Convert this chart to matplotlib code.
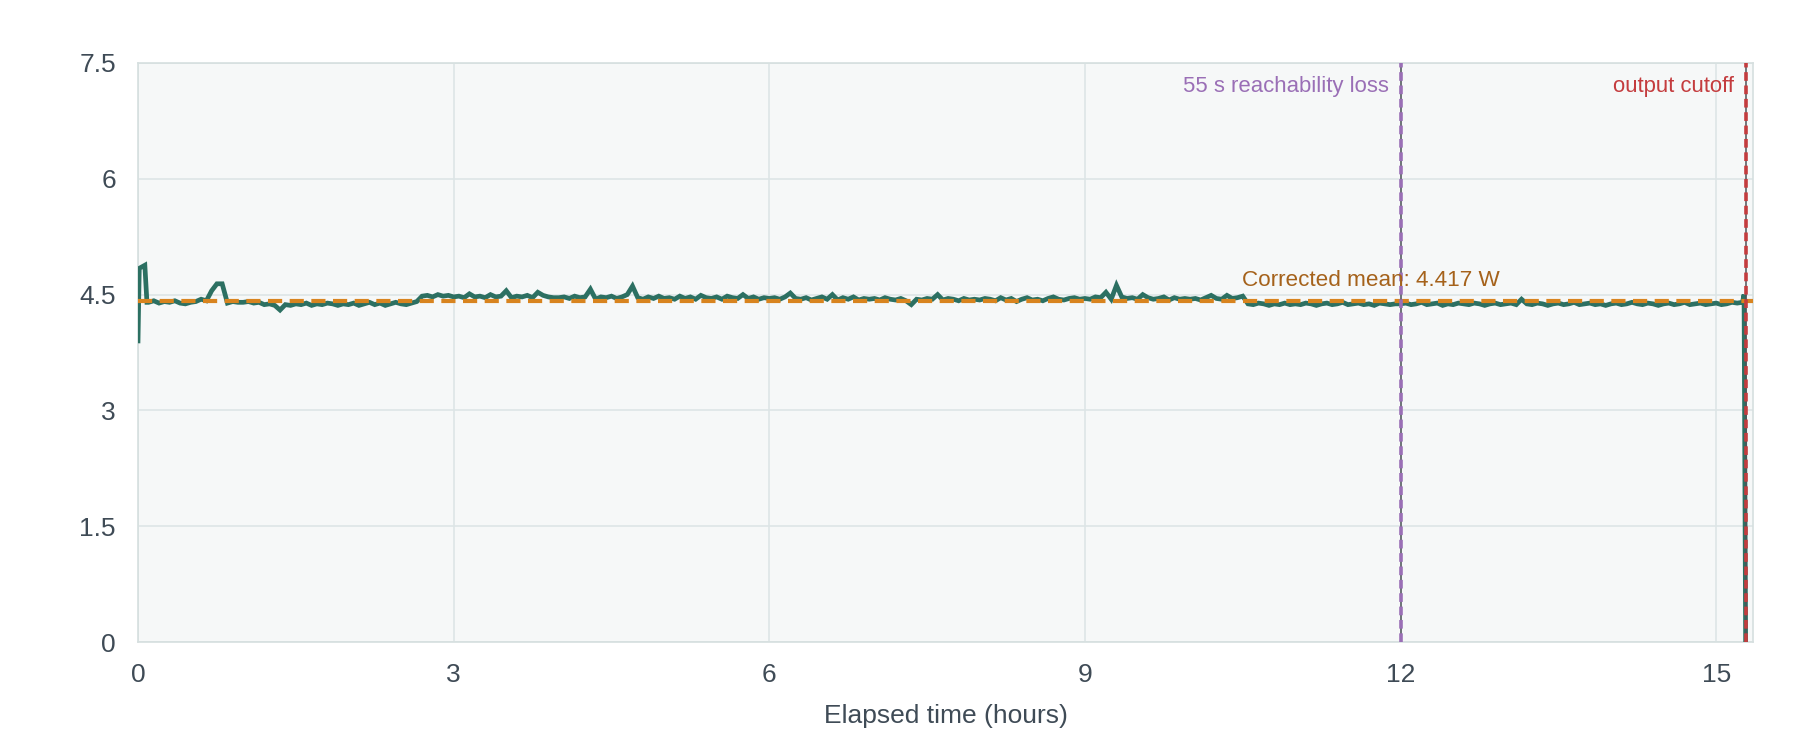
import numpy as np
import matplotlib
matplotlib.use("Agg")
import matplotlib.pyplot as plt

# ---------------- data ----------------
start_hours = [0.0, 0.012, 0.065, 0.085]
start_watts = [3.90, 4.84, 4.88, 4.40]

step_hours = 0.05
series_start = 0.10
watts = [
    # 0.10 - 0.95
    4.40, 4.42, 4.39, 4.41, 4.40, 4.42, 4.39, 4.38, 4.40, 4.41, 4.44, 4.42, 4.55, 4.64, 4.64, 4.39, 4.41, 4.40,
    # 1.00 - 1.95
    4.40, 4.41, 4.39, 4.40, 4.37, 4.38, 4.36, 4.30, 4.37, 4.36, 4.38, 4.37, 4.39, 4.36, 4.38, 4.37, 4.39, 4.38, 4.36, 4.38,
    # 2.00 - 2.95
    4.37, 4.39, 4.36, 4.38, 4.40, 4.37, 4.39, 4.36, 4.38, 4.40, 4.38, 4.37, 4.39, 4.41, 4.48, 4.49, 4.47, 4.50, 4.48, 4.49,
    # 3.00 - 3.95
    4.47, 4.48, 4.46, 4.51, 4.47, 4.48, 4.46, 4.50, 4.47, 4.48, 4.55, 4.46, 4.48, 4.47, 4.49, 4.46, 4.53, 4.49, 4.47, 4.46,
    # 4.00 - 4.95
    4.46, 4.47, 4.45, 4.48, 4.46, 4.47, 4.57, 4.44, 4.47, 4.46, 4.48, 4.45, 4.47, 4.50, 4.61, 4.46, 4.44, 4.47, 4.45, 4.48,
    # 5.00 - 5.95
    4.45, 4.46, 4.44, 4.48, 4.45, 4.47, 4.44, 4.49, 4.46, 4.45, 4.47, 4.44, 4.48, 4.46, 4.45, 4.50, 4.45, 4.47, 4.44, 4.46,
    # 6.00 - 6.95
    4.45, 4.46, 4.44, 4.47, 4.52, 4.45, 4.44, 4.46, 4.43, 4.45, 4.47, 4.44, 4.50, 4.43, 4.46, 4.44, 4.47, 4.43, 4.45, 4.44,
    # 7.00 - 7.95
    4.45, 4.43, 4.46, 4.44, 4.43, 4.45, 4.42, 4.37, 4.44, 4.43, 4.45, 4.44, 4.50, 4.43, 4.45, 4.44, 4.42, 4.45, 4.43, 4.44,
    # 8.00 - 8.95
    4.43, 4.45, 4.44, 4.42, 4.46, 4.43, 4.45, 4.41, 4.44, 4.46, 4.43, 4.44, 4.42, 4.45, 4.47, 4.44, 4.43, 4.45, 4.46, 4.44,
    # 9.00 - 9.95
    4.45, 4.44, 4.47, 4.46, 4.53, 4.44, 4.62, 4.47, 4.45, 4.46, 4.44, 4.50, 4.46, 4.44, 4.45, 4.47, 4.43, 4.46, 4.44, 4.45,
    # 10.00 - 10.95
    4.44, 4.45, 4.43, 4.46, 4.49, 4.45, 4.44, 4.49, 4.45, 4.46, 4.48, 4.38, 4.37, 4.39, 4.38, 4.36, 4.38, 4.37, 4.39, 4.37,
    # 11.00 - 11.95
    4.38, 4.37, 4.39, 4.38, 4.36, 4.38, 4.39, 4.37, 4.38, 4.40, 4.37, 4.38, 4.39, 4.37, 4.38, 4.36, 4.39, 4.38, 4.37, 4.38,
    # 12.00 - 12.95
    4.38, 4.39, 4.37, 4.38, 4.40, 4.37, 4.38, 4.39, 4.36, 4.38, 4.37, 4.39, 4.38, 4.37, 4.39, 4.38, 4.36, 4.38, 4.39, 4.37,
    # 13.00 - 13.95
    4.38, 4.39, 4.37, 4.44, 4.38, 4.37, 4.39, 4.38, 4.36, 4.38, 4.39, 4.37, 4.38, 4.40, 4.37, 4.38, 4.39, 4.37, 4.38, 4.36,
    # 14.00 - 14.95
    4.38, 4.39, 4.37, 4.38, 4.40, 4.38, 4.37, 4.39, 4.38, 4.36, 4.38, 4.39, 4.37, 4.38, 4.40, 4.37, 4.38, 4.39, 4.37, 4.38,
    # 15.00 - 15.20
    4.39, 4.37, 4.38, 4.40, 4.39,
]
end_hours = [15.25, 15.265, 15.28]
end_watts = [4.40, 4.50, 0.0]

corrected_mean = 4.417
reachability_loss_hour = 12.0
output_cutoff_hour = 15.28

x_ticks = [0, 3, 6, 9, 12, 15]
y_ticks = [0, 1.5, 3, 4.5, 6, 7.5]
y_tick_labels = ["0", "1.5", "3", "4.5", "6", "7.5"]

# ---------------- build series ----------------
series_hours = series_start + step_hours * np.arange(len(watts))
hours = np.concatenate([start_hours, series_hours, end_hours])
power = np.concatenate([start_watts, watts, end_watts])

# ---------------- style ----------------
plt.rcParams['font.family'] = ['Liberation Sans', 'DejaVu Sans']
tick_color = '#3f4b56'
teal = '#2c7062'
mean_orange = '#d8841f'
mean_text = '#a5621b'
purple = '#9a6fb6'
red = '#c43c3e'

fig = plt.figure(figsize=(18, 7.5), dpi=100)
ax = fig.add_axes([138/1800, 1 - 642/750, (1753 - 138)/1800, (642 - 63)/750])
ax.set_facecolor('#f6f8f8')

ax.plot(hours, power, color=teal, lw=3.4, zorder=3, solid_joinstyle='miter')
ax.axhline(corrected_mean, color=mean_orange, lw=3.0, dashes=(3.4, 1.8), zorder=4)

for xv, col in [(reachability_loss_hour, purple), (output_cutoff_hour, red)]:
    ax.axvline(xv, color='#4d5358', lw=1.1, zorder=5)
    ax.axvline(xv, color=col, lw=2.6, dashes=(2.4, 1.3), zorder=6)

ax.annotate("55 s reachability loss", xy=(reachability_loss_hour, 7.118), xytext=(-8.5, 0),
            textcoords='offset points', ha='right', va='baseline', fontsize=15.9, color=purple, zorder=7)
ax.annotate("output cutoff", xy=(output_cutoff_hour, 7.118), xytext=(-8.5, 0),
            textcoords='offset points', ha='right', va='baseline', fontsize=15.9, color=red, zorder=7)
ax.annotate("Corrected mean: 4.417 W", xy=(10.49, corrected_mean), xytext=(0, 11),
            textcoords='offset points', ha='left', va='baseline', fontsize=16.2, color=mean_text, zorder=7)

ax.set_xlim(0, 15.35)
ax.set_ylim(0, 7.5)
ax.set_xticks(x_ticks)
ax.set_yticks(y_ticks)
ax.set_yticklabels(y_tick_labels)
ax.grid(True, color='#dde5e6', lw=1.2, zorder=0)
ax.set_axisbelow(True)
for s in ax.spines.values():
    s.set_color('#d6dfdf')
    s.set_linewidth(1.2)
ax.tick_params(axis='both', length=0, labelsize=19, colors=tick_color)
ax.tick_params(axis='x', pad=15)
ax.tick_params(axis='y', pad=16)
ax.set_xlabel("Elapsed time (hours)", fontsize=19, color=tick_color, labelpad=12)

fig.savefig("out.png", dpi=100, facecolor='white')
